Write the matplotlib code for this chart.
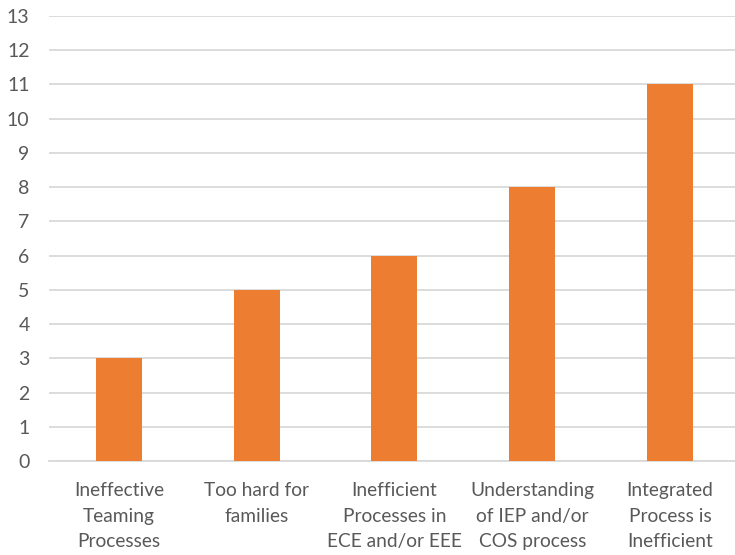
import matplotlib
matplotlib.use("Agg")
import matplotlib.pyplot as plt

categories = [
    "Ineffective\nTeaming\nProcesses",
    "Too hard for\nfamilies",
    "Inefficient\nProcesses in\nECE and/or EEE",
    "Understanding\nof IEP and/or\nCOS process",
    "Integrated\nProcess is\nInefficient",
]
values = [3, 5, 6, 8, 11]
yticks = list(range(0, 14))

plt.rcParams["font.family"] = ["Lato", "DejaVu Sans"]

fig = plt.figure(figsize=(7.35, 5.55), dpi=100)
ax = fig.add_axes([49 / 735, 1 - 461 / 555, 1 - 49 / 735, (461 - 16) / 555])

x = list(range(len(categories)))
ax.bar(x, values, width=0.334, color="#ED7D31", zorder=3)

ax.set_xlim(-0.508, 4.472)
ax.set_ylim(0, 13)
ax.set_yticks(yticks)
ax.set_xticks(x)
ax.set_xticklabels(categories, fontsize=13.8, color="#595959", linespacing=1.62)
ax.tick_params(axis="y", labelsize=14, labelcolor="#595959", length=0, pad=14)
ax.tick_params(axis="x", length=0, pad=15)

ax.grid(axis="y", color="#D9D9D9", linewidth=1.3, zorder=0)
for s in ["top", "right", "left"]:
    ax.spines[s].set_visible(False)
ax.spines["bottom"].set_color("#D9D9D9")
ax.spines["bottom"].set_linewidth(1.3)

fig.savefig("out.png", dpi=100)
